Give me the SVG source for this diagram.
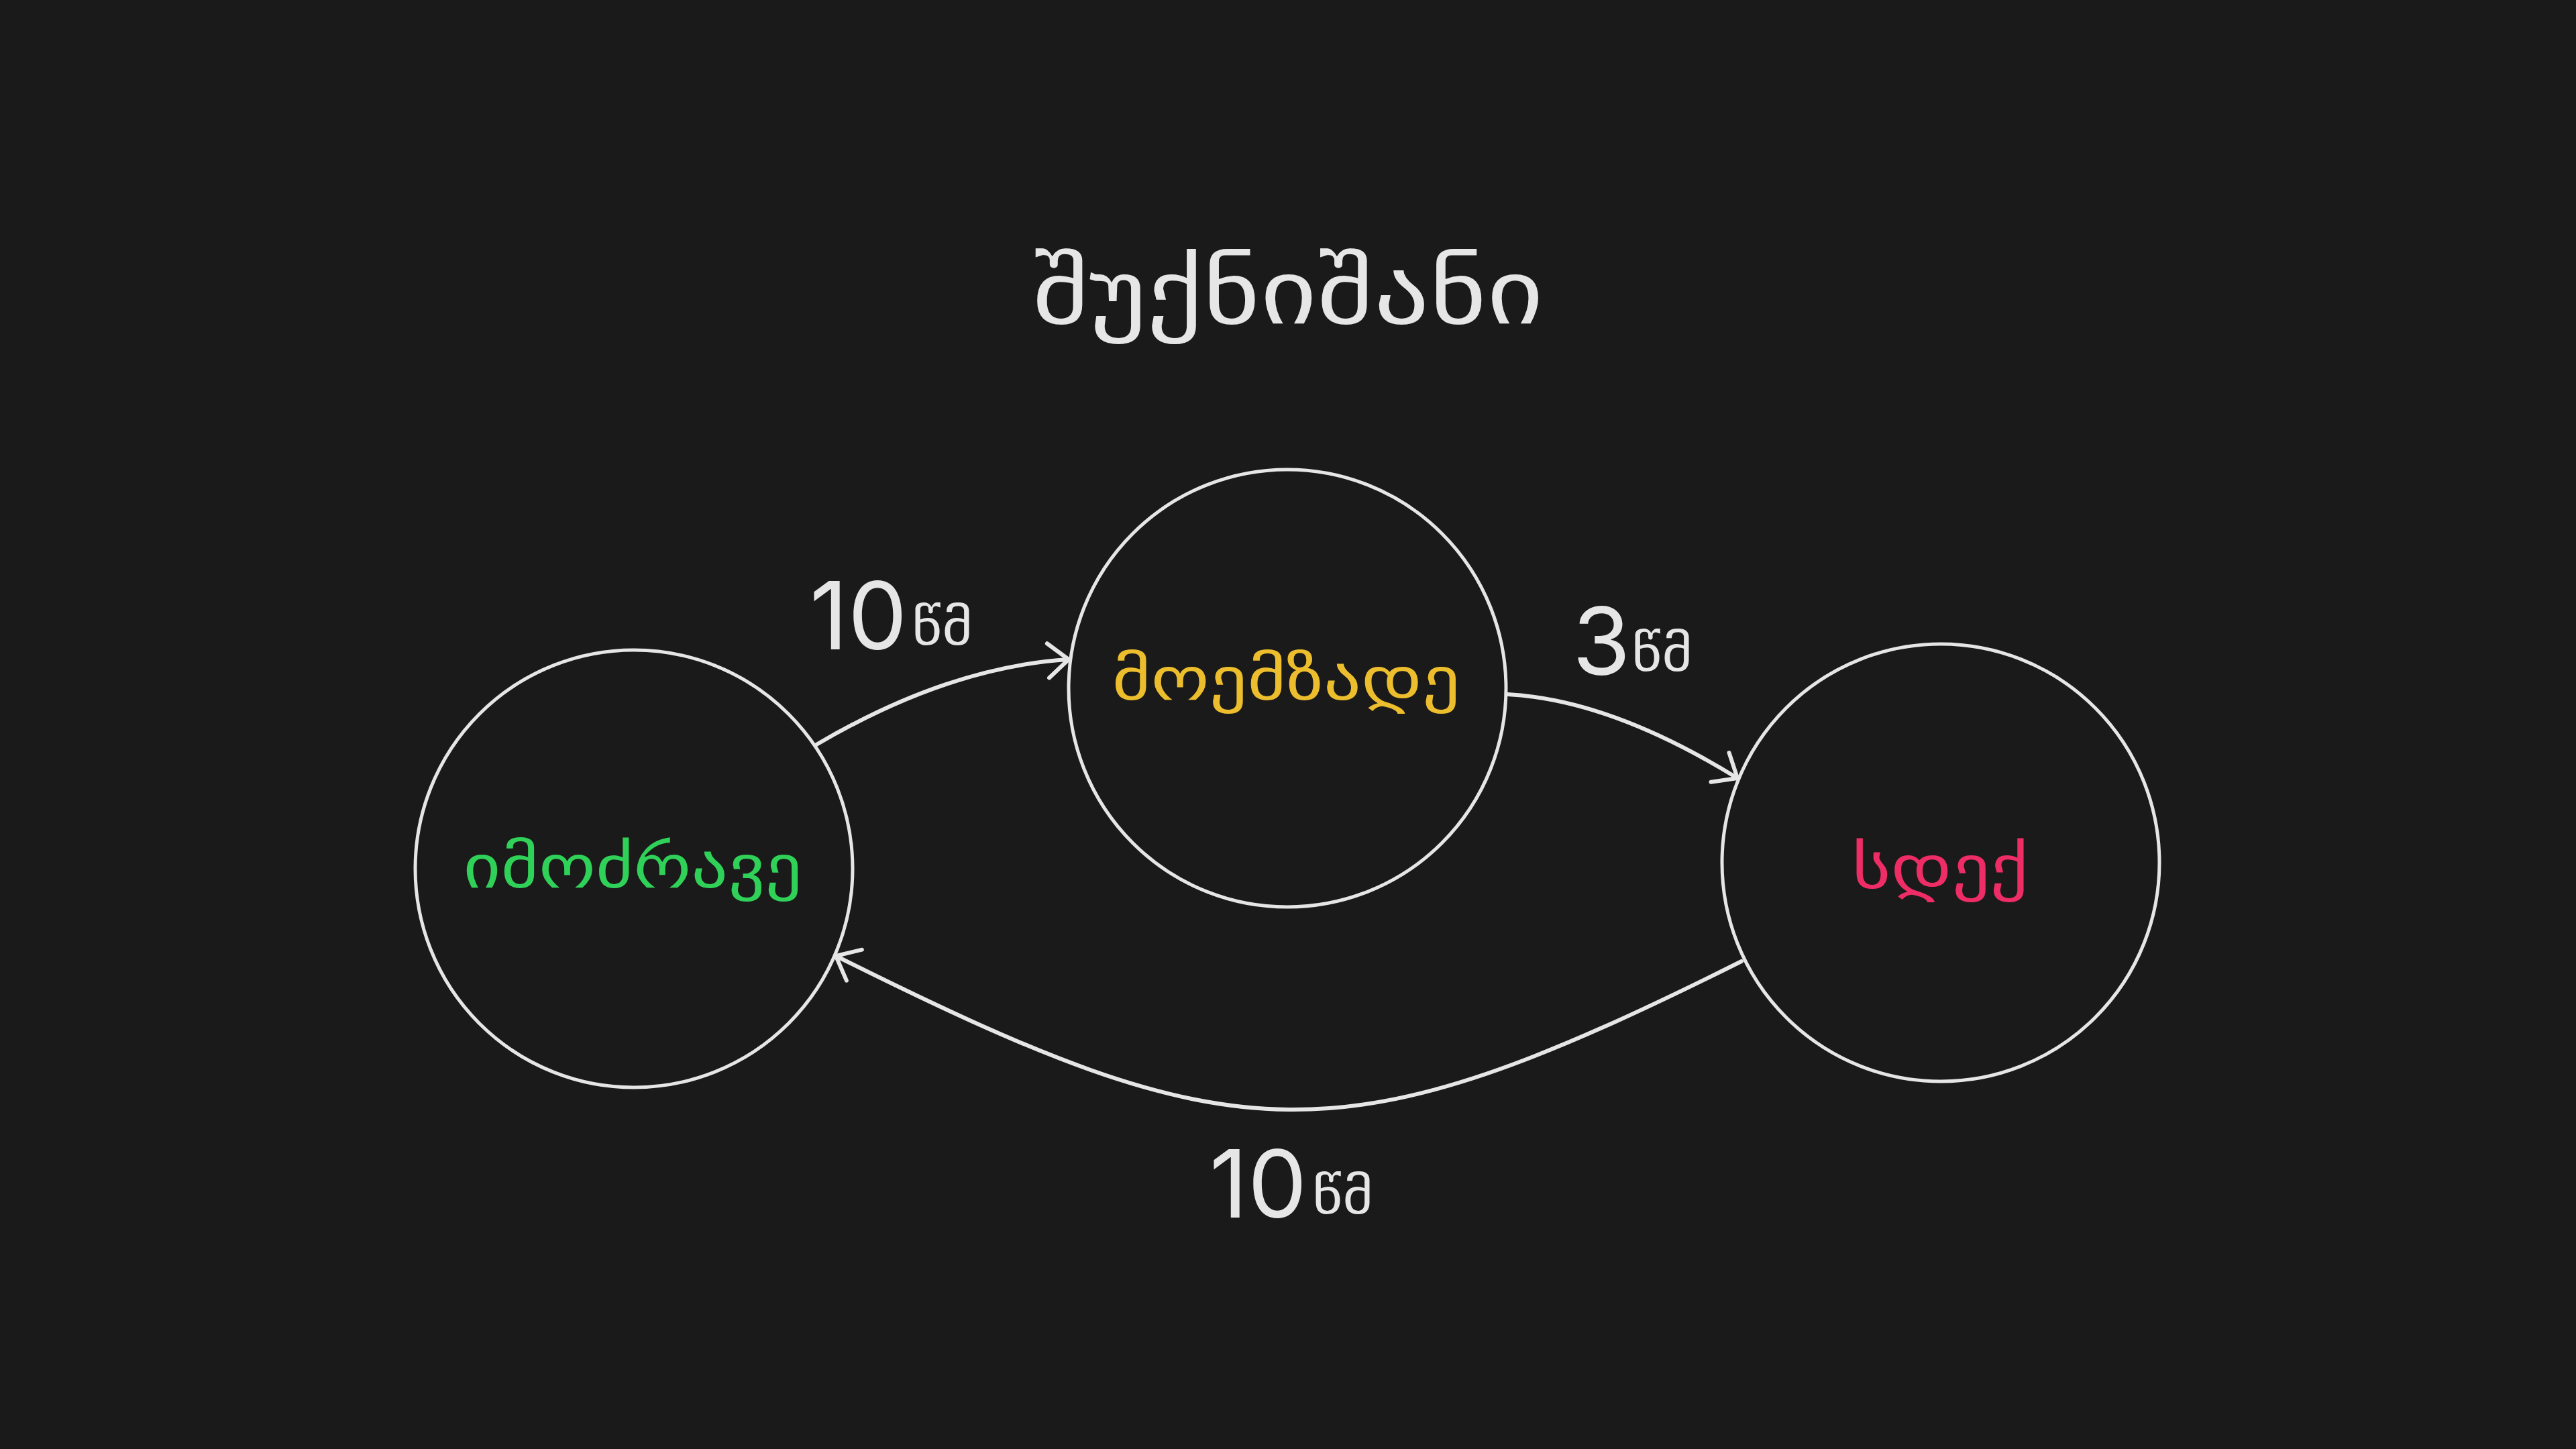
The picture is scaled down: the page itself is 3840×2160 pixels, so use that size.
<svg xmlns="http://www.w3.org/2000/svg" width="3840" height="2160" viewBox="0 0 3840 2160">
  <defs>
    <style>
      .bg { fill: #1a1a1a; }
      .node { fill: #1a1a1a; stroke: #e6e6e6; stroke-width: 5; }
      .conn { fill: none; stroke: #e6e6e6; stroke-width: 6; stroke-linecap: round; }
      .head { fill: none; stroke: #e6e6e6; stroke-width: 6; stroke-linecap: round; stroke-linejoin: round; }
      .geo { font-family: "DejaVu Sans", sans-serif; }
      .title { font-size: 134px; fill: #e6e6e6; text-anchor: middle; }
      .label { font-size: 90px; text-anchor: middle; }
      .num { font-family: Inter, "DejaVu Sans", sans-serif; font-size: 140px; fill: #e6e6e6; }
      .unit { font-family: "DejaVu Sans", sans-serif; font-size: 74px; fill: #e6e6e6; }
    </style>
    <marker id="arrow" viewBox="-40 -35 50 70" refX="0" refY="0" markerWidth="50" markerHeight="70" markerUnits="userSpaceOnUse" orient="auto">
      <path class="head" d="M -30.6 -25.7 L 0 0 L -30.6 25.7"/>
    </marker>
  </defs>
  <rect class="bg" x="0" y="0" width="3840" height="2160"/>

  <text class="geo title" x="1920" y="482" textLength="762" lengthAdjust="spacingAndGlyphs">შუქნიშანი</text>

  <g id="connectors">
    <path id="c-go-ready" class="conn" d="M 1217 1110 Q 1414 994 1593 983" marker-end="url(#arrow)"/>
    <path id="c-ready-stop" class="conn" d="M 2247 1035 Q 2401 1043 2590 1160" marker-end="url(#arrow)"/>
    <path id="c-stop-go" class="conn" d="M 2596 1433 C 1996 1733 1846 1725 1246 1425" marker-end="url(#arrow)"/>
    <g id="l1">
      <text class="num" x="1207" y="968">10</text>
      <text class="unit" x="1359" y="961" textLength="91" lengthAdjust="spacingAndGlyphs">წმ</text>
    </g>
    <g id="l2">
      <text class="num" x="2344" y="1006">3</text>
      <text class="unit" x="2432" y="1000" textLength="91" lengthAdjust="spacingAndGlyphs">წმ</text>
    </g>
    <g id="l3">
      <text class="num" x="1803" y="1815">10</text>
      <text class="unit" x="1956" y="1809" textLength="91" lengthAdjust="spacingAndGlyphs">წმ</text>
    </g>
  </g>

  <g id="node-go">
    <circle class="node" cx="945" cy="1295" r="326"/>
    <text class="geo label" x="943" y="1323" fill="#30d158" textLength="505" lengthAdjust="spacingAndGlyphs">იმოძრავე</text>
  </g>
  <g id="node-ready">
    <circle class="node" cx="1919" cy="1026" r="326"/>
    <text class="geo label" x="1917" y="1043" fill="#ecbd2c" textLength="519" lengthAdjust="spacingAndGlyphs">მოემზადე</text>
  </g>
  <g id="node-stop">
    <circle class="node" cx="2893" cy="1286" r="326"/>
    <text class="geo label" x="2892" y="1324" fill="#ee2d66" textLength="263" lengthAdjust="spacingAndGlyphs">სდექ</text>
  </g>
</svg>
